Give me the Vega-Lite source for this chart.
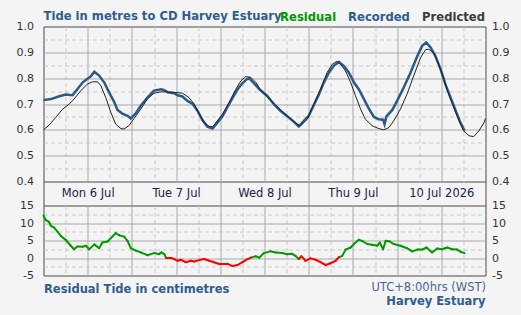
{
  "$schema": "https://vega.github.io/schema/vega-lite/v6.json",
  "padding": {"left": 15.5, "top": 9.5, "right": 12.5, "bottom": 9},
  "background": "#f4f4f4",
  "config": {
    "font": "DejaVu Sans",
    "view": {"stroke": "#4a4a4a", "strokeWidth": 1, "fill": "#f4f4f4"}
  },
  "datasets": {
    "recorded": [
      {"time": "2026-07-06T00:00", "level": 0.715}, {"time": "2026-07-06T02:00", "level": 0.719},
      {"time": "2026-07-06T04:18", "level": 0.730}, {"time": "2026-07-06T06:00", "level": 0.737},
      {"time": "2026-07-06T07:54", "level": 0.734}, {"time": "2026-07-06T08:48", "level": 0.750},
      {"time": "2026-07-06T10:36", "level": 0.783}, {"time": "2026-07-06T12:06", "level": 0.800},
      {"time": "2026-07-06T12:48", "level": 0.806}, {"time": "2026-07-06T13:48", "level": 0.825},
      {"time": "2026-07-06T15:06", "level": 0.810}, {"time": "2026-07-06T16:30", "level": 0.783},
      {"time": "2026-07-06T17:48", "level": 0.745}, {"time": "2026-07-06T19:12", "level": 0.708},
      {"time": "2026-07-06T20:06", "level": 0.677}, {"time": "2026-07-06T21:24", "level": 0.663},
      {"time": "2026-07-06T22:48", "level": 0.654}, {"time": "2026-07-06T23:42", "level": 0.644},
      {"time": "2026-07-07T01:06", "level": 0.665}, {"time": "2026-07-07T02:24", "level": 0.693},
      {"time": "2026-07-07T04:12", "level": 0.725}, {"time": "2026-07-07T06:00", "level": 0.752},
      {"time": "2026-07-07T07:54", "level": 0.757}, {"time": "2026-07-07T08:48", "level": 0.754},
      {"time": "2026-07-07T09:42", "level": 0.745}, {"time": "2026-07-07T11:30", "level": 0.742},
      {"time": "2026-07-07T12:24", "level": 0.734}, {"time": "2026-07-07T13:42", "level": 0.729},
      {"time": "2026-07-07T15:06", "level": 0.712}, {"time": "2026-07-07T16:30", "level": 0.700},
      {"time": "2026-07-07T17:48", "level": 0.674}, {"time": "2026-07-07T19:12", "level": 0.637},
      {"time": "2026-07-07T20:30", "level": 0.612}, {"time": "2026-07-07T21:54", "level": 0.605},
      {"time": "2026-07-07T23:12", "level": 0.628}, {"time": "2026-07-08T00:36", "level": 0.652},
      {"time": "2026-07-08T02:00", "level": 0.690}, {"time": "2026-07-08T03:18", "level": 0.723},
      {"time": "2026-07-08T04:42", "level": 0.757}, {"time": "2026-07-08T06:00", "level": 0.780},
      {"time": "2026-07-08T07:12", "level": 0.796}, {"time": "2026-07-08T07:48", "level": 0.800},
      {"time": "2026-07-08T09:12", "level": 0.780}, {"time": "2026-07-08T10:36", "level": 0.757},
      {"time": "2026-07-08T12:42", "level": 0.732}, {"time": "2026-07-08T14:30", "level": 0.700},
      {"time": "2026-07-08T16:18", "level": 0.674}, {"time": "2026-07-08T18:12", "level": 0.652},
      {"time": "2026-07-08T20:00", "level": 0.631}, {"time": "2026-07-08T21:18", "level": 0.613},
      {"time": "2026-07-08T22:42", "level": 0.635}, {"time": "2026-07-09T00:00", "level": 0.654},
      {"time": "2026-07-09T01:24", "level": 0.696}, {"time": "2026-07-09T02:48", "level": 0.738},
      {"time": "2026-07-09T04:06", "level": 0.783}, {"time": "2026-07-09T05:30", "level": 0.822},
      {"time": "2026-07-09T06:48", "level": 0.848}, {"time": "2026-07-09T08:12", "level": 0.863},
      {"time": "2026-07-09T09:30", "level": 0.848}, {"time": "2026-07-09T10:54", "level": 0.822},
      {"time": "2026-07-09T12:18", "level": 0.783}, {"time": "2026-07-09T13:36", "level": 0.757},
      {"time": "2026-07-09T15:00", "level": 0.719}, {"time": "2026-07-09T16:18", "level": 0.683},
      {"time": "2026-07-09T17:42", "level": 0.650}, {"time": "2026-07-09T19:00", "level": 0.641},
      {"time": "2026-07-09T20:12", "level": 0.639}, {"time": "2026-07-09T20:36", "level": 0.622},
      {"time": "2026-07-09T21:06", "level": 0.652}, {"time": "2026-07-09T22:42", "level": 0.677},
      {"time": "2026-07-10T00:00", "level": 0.712}, {"time": "2026-07-10T01:48", "level": 0.764},
      {"time": "2026-07-10T03:36", "level": 0.820}, {"time": "2026-07-10T05:30", "level": 0.886},
      {"time": "2026-07-10T06:48", "level": 0.925}, {"time": "2026-07-10T07:54", "level": 0.938},
      {"time": "2026-07-10T09:06", "level": 0.919}, {"time": "2026-07-10T10:24", "level": 0.886},
      {"time": "2026-07-10T11:48", "level": 0.835}, {"time": "2026-07-10T13:06", "level": 0.777},
      {"time": "2026-07-10T14:30", "level": 0.725}, {"time": "2026-07-10T15:54", "level": 0.674},
      {"time": "2026-07-10T17:12", "level": 0.628}, {"time": "2026-07-10T18:18", "level": 0.596}
    ],
    "predicted": [
      {"time": "2026-07-06T00:00", "level": 0.600}, {"time": "2026-07-06T01:30", "level": 0.618},
      {"time": "2026-07-06T03:18", "level": 0.648}, {"time": "2026-07-06T05:12", "level": 0.680},
      {"time": "2026-07-06T07:00", "level": 0.700}, {"time": "2026-07-06T08:18", "level": 0.719},
      {"time": "2026-07-06T10:06", "level": 0.751}, {"time": "2026-07-06T11:54", "level": 0.777},
      {"time": "2026-07-06T13:18", "level": 0.786}, {"time": "2026-07-06T14:42", "level": 0.786},
      {"time": "2026-07-06T15:36", "level": 0.770}, {"time": "2026-07-06T16:54", "level": 0.725},
      {"time": "2026-07-06T18:18", "level": 0.667}, {"time": "2026-07-06T19:36", "level": 0.622},
      {"time": "2026-07-06T21:00", "level": 0.605}, {"time": "2026-07-06T21:54", "level": 0.603},
      {"time": "2026-07-06T23:18", "level": 0.618}, {"time": "2026-07-07T00:36", "level": 0.644},
      {"time": "2026-07-07T02:24", "level": 0.680}, {"time": "2026-07-07T04:12", "level": 0.719},
      {"time": "2026-07-07T06:00", "level": 0.742}, {"time": "2026-07-07T07:54", "level": 0.747},
      {"time": "2026-07-07T09:42", "level": 0.747}, {"time": "2026-07-07T11:30", "level": 0.745},
      {"time": "2026-07-07T13:42", "level": 0.742}, {"time": "2026-07-07T15:30", "level": 0.725},
      {"time": "2026-07-07T16:54", "level": 0.700}, {"time": "2026-07-07T18:18", "level": 0.661},
      {"time": "2026-07-07T19:36", "level": 0.628}, {"time": "2026-07-07T21:00", "level": 0.613},
      {"time": "2026-07-07T21:54", "level": 0.612}, {"time": "2026-07-07T23:12", "level": 0.635},
      {"time": "2026-07-08T00:36", "level": 0.661}, {"time": "2026-07-08T02:24", "level": 0.706},
      {"time": "2026-07-08T04:12", "level": 0.757}, {"time": "2026-07-08T05:36", "level": 0.790},
      {"time": "2026-07-08T06:54", "level": 0.806}, {"time": "2026-07-08T08:18", "level": 0.803},
      {"time": "2026-07-08T09:42", "level": 0.783}, {"time": "2026-07-08T10:54", "level": 0.755},
      {"time": "2026-07-08T14:30", "level": 0.702}, {"time": "2026-07-08T18:12", "level": 0.654},
      {"time": "2026-07-08T20:54", "level": 0.622}, {"time": "2026-07-08T21:48", "level": 0.616},
      {"time": "2026-07-08T23:36", "level": 0.641}, {"time": "2026-07-09T01:24", "level": 0.700},
      {"time": "2026-07-09T03:12", "level": 0.757}, {"time": "2026-07-09T05:00", "level": 0.822},
      {"time": "2026-07-09T06:24", "level": 0.854}, {"time": "2026-07-09T07:36", "level": 0.865},
      {"time": "2026-07-09T08:36", "level": 0.854}, {"time": "2026-07-09T10:00", "level": 0.828},
      {"time": "2026-07-09T11:24", "level": 0.783}, {"time": "2026-07-09T12:42", "level": 0.732},
      {"time": "2026-07-09T14:06", "level": 0.680}, {"time": "2026-07-09T15:24", "level": 0.641},
      {"time": "2026-07-09T17:12", "level": 0.616}, {"time": "2026-07-09T19:00", "level": 0.605},
      {"time": "2026-07-09T20:24", "level": 0.600}, {"time": "2026-07-09T21:48", "level": 0.609},
      {"time": "2026-07-09T23:06", "level": 0.635}, {"time": "2026-07-10T00:54", "level": 0.680},
      {"time": "2026-07-10T02:42", "level": 0.738}, {"time": "2026-07-10T04:30", "level": 0.809},
      {"time": "2026-07-10T06:24", "level": 0.880}, {"time": "2026-07-10T07:42", "level": 0.910},
      {"time": "2026-07-10T08:36", "level": 0.912}, {"time": "2026-07-10T09:54", "level": 0.899},
      {"time": "2026-07-10T11:18", "level": 0.854}, {"time": "2026-07-10T12:42", "level": 0.796},
      {"time": "2026-07-10T14:00", "level": 0.738}, {"time": "2026-07-10T15:24", "level": 0.687},
      {"time": "2026-07-10T16:48", "level": 0.635}, {"time": "2026-07-10T18:06", "level": 0.596},
      {"time": "2026-07-10T19:30", "level": 0.577}, {"time": "2026-07-10T20:48", "level": 0.574},
      {"time": "2026-07-10T22:12", "level": 0.596}, {"time": "2026-07-10T23:36", "level": 0.628},
      {"time": "2026-07-11T00:00", "level": 0.644}
    ],
    "residual": [
      {"time": "2026-07-06T00:00", "residual": 12.2}, {"time": "2026-07-06T00:36", "residual": 10.8},
      {"time": "2026-07-06T01:30", "residual": 10.3}, {"time": "2026-07-06T02:00", "residual": 9.2},
      {"time": "2026-07-06T02:54", "residual": 8.7}, {"time": "2026-07-06T03:48", "residual": 7.5},
      {"time": "2026-07-06T04:42", "residual": 6.3}, {"time": "2026-07-06T06:06", "residual": 5.1},
      {"time": "2026-07-06T07:24", "residual": 3.5}, {"time": "2026-07-06T08:18", "residual": 2.5},
      {"time": "2026-07-06T09:12", "residual": 3.3}, {"time": "2026-07-06T10:36", "residual": 3.2},
      {"time": "2026-07-06T11:30", "residual": 3.5}, {"time": "2026-07-06T12:24", "residual": 2.5},
      {"time": "2026-07-06T13:48", "residual": 3.9}, {"time": "2026-07-06T15:06", "residual": 2.8},
      {"time": "2026-07-06T16:00", "residual": 4.4}, {"time": "2026-07-06T17:24", "residual": 4.7},
      {"time": "2026-07-06T18:42", "residual": 6.1}, {"time": "2026-07-06T19:36", "residual": 7.1},
      {"time": "2026-07-06T20:30", "residual": 6.5}, {"time": "2026-07-06T21:54", "residual": 6.1},
      {"time": "2026-07-06T22:48", "residual": 4.9}, {"time": "2026-07-06T23:42", "residual": 2.8},
      {"time": "2026-07-07T01:06", "residual": 2.1}, {"time": "2026-07-07T02:24", "residual": 1.6},
      {"time": "2026-07-07T04:12", "residual": 0.8}, {"time": "2026-07-07T06:00", "residual": 1.4},
      {"time": "2026-07-07T07:24", "residual": 1.1}, {"time": "2026-07-07T08:00", "residual": 1.6},
      {"time": "2026-07-07T08:48", "residual": 1.1}, {"time": "2026-07-07T09:18", "residual": 0.0},
      {"time": "2026-07-07T10:36", "residual": 0.0}, {"time": "2026-07-07T11:30", "residual": -0.3},
      {"time": "2026-07-07T12:24", "residual": -0.8}, {"time": "2026-07-07T13:18", "residual": -0.5},
      {"time": "2026-07-07T14:36", "residual": -1.2}, {"time": "2026-07-07T16:00", "residual": -0.8},
      {"time": "2026-07-07T16:54", "residual": -1.0}, {"time": "2026-07-07T18:18", "residual": -0.6},
      {"time": "2026-07-07T19:36", "residual": -0.3}, {"time": "2026-07-07T21:00", "residual": -0.8},
      {"time": "2026-07-07T22:18", "residual": -1.2}, {"time": "2026-07-07T23:42", "residual": -1.7},
      {"time": "2026-07-08T01:00", "residual": -1.7}, {"time": "2026-07-08T02:00", "residual": -1.7},
      {"time": "2026-07-08T03:18", "residual": -2.3}, {"time": "2026-07-08T04:42", "residual": -2.0},
      {"time": "2026-07-08T06:00", "residual": -1.2}, {"time": "2026-07-08T07:24", "residual": -0.3},
      {"time": "2026-07-08T08:18", "residual": 0.1}, {"time": "2026-07-08T09:36", "residual": 0.5},
      {"time": "2026-07-08T10:36", "residual": 0.1}, {"time": "2026-07-08T11:48", "residual": 1.4},
      {"time": "2026-07-08T13:36", "residual": 1.9}, {"time": "2026-07-08T15:00", "residual": 1.6},
      {"time": "2026-07-08T16:48", "residual": 1.4}, {"time": "2026-07-08T18:12", "residual": 1.1},
      {"time": "2026-07-08T19:30", "residual": 1.2}, {"time": "2026-07-08T20:24", "residual": 0.6},
      {"time": "2026-07-08T21:18", "residual": -0.3}, {"time": "2026-07-08T22:00", "residual": 0.5},
      {"time": "2026-07-08T22:30", "residual": 0.0}, {"time": "2026-07-08T23:06", "residual": -0.8},
      {"time": "2026-07-09T00:30", "residual": -0.1}, {"time": "2026-07-09T01:54", "residual": -0.5},
      {"time": "2026-07-09T03:12", "residual": -1.2}, {"time": "2026-07-09T04:36", "residual": -2.0},
      {"time": "2026-07-09T05:54", "residual": -1.5}, {"time": "2026-07-09T07:18", "residual": -0.8},
      {"time": "2026-07-09T08:12", "residual": 0.2}, {"time": "2026-07-09T09:06", "residual": 0.6},
      {"time": "2026-07-09T10:00", "residual": 2.4}, {"time": "2026-07-09T11:24", "residual": 3.0},
      {"time": "2026-07-09T12:18", "residual": 4.0}, {"time": "2026-07-09T13:36", "residual": 5.2},
      {"time": "2026-07-09T14:30", "residual": 4.9}, {"time": "2026-07-09T15:54", "residual": 4.0},
      {"time": "2026-07-09T17:12", "residual": 3.8}, {"time": "2026-07-09T18:36", "residual": 3.5},
      {"time": "2026-07-09T19:18", "residual": 4.4}, {"time": "2026-07-09T20:12", "residual": 2.5},
      {"time": "2026-07-09T20:54", "residual": 4.9}, {"time": "2026-07-09T21:48", "residual": 4.8},
      {"time": "2026-07-09T23:06", "residual": 4.0}, {"time": "2026-07-10T00:54", "residual": 3.5},
      {"time": "2026-07-10T02:42", "residual": 2.8}, {"time": "2026-07-10T04:06", "residual": 1.9},
      {"time": "2026-07-10T05:30", "residual": 2.4}, {"time": "2026-07-10T06:48", "residual": 2.4},
      {"time": "2026-07-10T08:00", "residual": 3.0}, {"time": "2026-07-10T09:30", "residual": 1.6},
      {"time": "2026-07-10T10:54", "residual": 2.7}, {"time": "2026-07-10T12:12", "residual": 2.5},
      {"time": "2026-07-10T13:36", "residual": 3.0}, {"time": "2026-07-10T14:54", "residual": 2.5},
      {"time": "2026-07-10T16:18", "residual": 2.4}, {"time": "2026-07-10T17:12", "residual": 1.8},
      {"time": "2026-07-10T18:18", "residual": 1.4}
    ]
  },
  "vconcat": [
    {
      "width": 442,
      "height": 155,
      "title": {"text": "Tide in metres to CD Harvey Estuary", "anchor": "start", "frame": "group", "offset": -11, "baseline": "alphabetic", "color": "#2f5d8e", "fontSize": 11.6, "fontWeight": "bold", "font": "DejaVu Sans"},
      "layer": [
        {
          "data": {"name": "recorded"},
          "mark": {"type": "line", "strokeWidth": 2.5},
          "encoding": {
            "x": {
              "field": "time", "type": "temporal",
              "scale": {"domain": ["2026-07-06T00:00", "2026-07-11T00:00"], "nice": false},
              "axis": {
                "title": null, "orient": "bottom",
                "values": [
                  {"year": 2026, "month": 7, "date": 6, "hours": 6}, {"year": 2026, "month": 7, "date": 6, "hours": 12}, {"year": 2026, "month": 7, "date": 6, "hours": 18},
                  {"year": 2026, "month": 7, "date": 7, "hours": 0}, {"year": 2026, "month": 7, "date": 7, "hours": 6}, {"year": 2026, "month": 7, "date": 7, "hours": 12}, {"year": 2026, "month": 7, "date": 7, "hours": 18},
                  {"year": 2026, "month": 7, "date": 8, "hours": 0}, {"year": 2026, "month": 7, "date": 8, "hours": 6}, {"year": 2026, "month": 7, "date": 8, "hours": 12}, {"year": 2026, "month": 7, "date": 8, "hours": 18},
                  {"year": 2026, "month": 7, "date": 9, "hours": 0}, {"year": 2026, "month": 7, "date": 9, "hours": 6}, {"year": 2026, "month": 7, "date": 9, "hours": 12}, {"year": 2026, "month": 7, "date": 9, "hours": 18},
                  {"year": 2026, "month": 7, "date": 10, "hours": 0}, {"year": 2026, "month": 7, "date": 10, "hours": 6}, {"year": 2026, "month": 7, "date": 10, "hours": 12}, {"year": 2026, "month": 7, "date": 10, "hours": 18}
                ],
                "grid": true, "ticks": false, "domain": false,
                "gridColor": {"condition": {"test": "hours(datum.value) % 12 == 0", "value": "#a8a8a8"}, "value": "#c8c8c8"},
                "gridDash": {"condition": {"test": "hours(datum.value) % 12 != 0", "value": [4, 3]}, "value": []},
                "labelExpr": "hours(datum.value) == 12 ? (date(datum.value) == 10 ? '10 Jul 2026' : timeFormat(datum.value, '%a %-d %b')) : ''",
                "labelOverlap": false, "labelFlush": false, "labelBound": false,
                "labelBaseline": "middle", "labelPadding": 12, "labelFontSize": 11.5, "labelColor": "#22224a", "labelFont": "DejaVu Sans"
              }
            },
            "y": {
              "field": "level", "type": "quantitative",
              "scale": {"domain": [0.4, 1.0], "nice": false, "zero": false},
              "axis": {
                "title": null, "orient": "left",
                "values": [0.4, 0.45, 0.5, 0.55, 0.6, 0.65, 0.7, 0.75, 0.8, 0.85, 0.9, 0.95, 1.0],
                "grid": true, "ticks": false, "domain": false,
                "gridColor": {"condition": {"test": "round(datum.value * 100) % 10 != 0", "value": "#c8c8c8"}, "value": "#a8a8a8"},
                "gridDash": {"condition": {"test": "round(datum.value * 100) % 10 != 0", "value": [4, 3]}, "value": []},
                "gridOpacity": {"condition": {"test": "datum.value < 0.41 || datum.value > 0.99", "value": 0}, "value": 1},
                "labelExpr": "round(datum.value * 100) % 10 == 0 ? format(datum.value, '.1f') : ''",
                "labelPadding": 10, "labelFontSize": 11, "labelColor": "#333333"
              }
            },
            "color": {
              "datum": "Recorded",
              "scale": {"domain": ["Residual", "Recorded", "Predicted"], "range": ["#009900", "#2b5a88", "#222222"]},
              "legend": {
                "orient": "none", "legendX": 225, "legendY": -15, "direction": "horizontal", "columns": 3,
                "title": null, "symbolSize": 1, "symbolOpacity": 0, "symbolStrokeWidth": 0,
                "labelOffset": 0, "columnPadding": -3.5, "labelFontSize": 11.6, "labelFontWeight": "bold", "labelFont": "DejaVu Sans",
                "encode": {"labels": {"update": {"fill": {"signal": "datum.label == 'Residual' ? '#009900' : datum.label == 'Recorded' ? '#2f5d8e' : '#3c3c3c'"}}}}
              }
            }
          }
        },
        {
          "data": {"name": "predicted"},
          "mark": {"type": "line", "strokeWidth": 1},
          "encoding": {
            "x": {
              "field": "time", "type": "temporal",
              "axis": {
                "title": null, "orient": "bottom",
                "values": [
                  {"year": 2026, "month": 7, "date": 6}, {"year": 2026, "month": 7, "date": 7}, {"year": 2026, "month": 7, "date": 8},
                  {"year": 2026, "month": 7, "date": 9}, {"year": 2026, "month": 7, "date": 10}, {"year": 2026, "month": 7, "date": 11}
                ],
                "grid": false, "labels": false, "domain": false, "ticks": true, "tickSize": 24,
                "tickColor": {"condition": {"test": "(date(datum.value) == 6 && hours(datum.value) == 0) || date(datum.value) == 11", "value": "#4a4a4a"}, "value": "#a0a0a0"}
              }
            },
            "y": {
              "field": "level", "type": "quantitative",
              "axis": {
                "title": null, "orient": "right",
                "values": [0.4, 0.5, 0.6, 0.7, 0.8, 0.9, 1.0],
                "grid": false, "ticks": false, "domain": false,
                "labelExpr": "format(datum.value, '.1f')",
                "labelPadding": 6, "labelFontSize": 11, "labelColor": "#333333"
              }
            },
            "color": {"datum": "Predicted", "scale": {"domain": ["Residual", "Recorded", "Predicted"], "range": ["#009900", "#2b5a88", "#222222"]}}
          }
        }
      ],
      "resolve": {"axis": {"x": "independent", "y": "independent"}}
    },
    {
      "width": 442,
      "height": 70,
      "data": {"name": "residual"},
      "transform": [
        {"window": [{"op": "lead", "field": "time", "as": "time2"}, {"op": "lead", "field": "residual", "as": "residual2"}], "sort": [{"field": "time"}]},
        {"filter": "datum.time2 != null"}
      ],
      "title": {"text": "Harvey Estuary", "orient": "bottom", "anchor": "end", "frame": "group", "offset": 1, "baseline": "top", "color": "#2f5d8e", "fontSize": 11.5, "fontWeight": "bold", "font": "DejaVu Sans"},
      "layer": [
        {
          "transform": [{"filter": "datum.residual > 0"}],
          "mark": {"type": "rule", "strokeWidth": 2, "strokeCap": "round"},
          "encoding": {
            "x": {
              "field": "time", "type": "temporal",
              "scale": {"domain": ["2026-07-06T00:00", "2026-07-11T00:00"], "nice": false},
              "axis": {
                "orient": "bottom",
                "title": "Residual Tide in centimetres", "titleAnchor": "start", "titleFontWeight": "bold", "titleFontSize": 11.5,
                "titleColor": "#2f5d8e", "titlePadding": 8, "titleFont": "DejaVu Sans",
                "values": [
                  {"year": 2026, "month": 7, "date": 6, "hours": 6}, {"year": 2026, "month": 7, "date": 6, "hours": 12}, {"year": 2026, "month": 7, "date": 6, "hours": 18},
                  {"year": 2026, "month": 7, "date": 7, "hours": 0}, {"year": 2026, "month": 7, "date": 7, "hours": 6}, {"year": 2026, "month": 7, "date": 7, "hours": 12}, {"year": 2026, "month": 7, "date": 7, "hours": 18},
                  {"year": 2026, "month": 7, "date": 8, "hours": 0}, {"year": 2026, "month": 7, "date": 8, "hours": 6}, {"year": 2026, "month": 7, "date": 8, "hours": 12}, {"year": 2026, "month": 7, "date": 8, "hours": 18},
                  {"year": 2026, "month": 7, "date": 9, "hours": 0}, {"year": 2026, "month": 7, "date": 9, "hours": 6}, {"year": 2026, "month": 7, "date": 9, "hours": 12}, {"year": 2026, "month": 7, "date": 9, "hours": 18},
                  {"year": 2026, "month": 7, "date": 10, "hours": 0}, {"year": 2026, "month": 7, "date": 10, "hours": 6}, {"year": 2026, "month": 7, "date": 10, "hours": 12}, {"year": 2026, "month": 7, "date": 10, "hours": 18}
                ],
                "grid": true, "ticks": false, "domain": false, "labels": false,
                "gridColor": {"condition": {"test": "hours(datum.value) % 12 == 0", "value": "#a8a8a8"}, "value": "#c8c8c8"},
                "gridDash": {"condition": {"test": "hours(datum.value) % 12 != 0", "value": [4, 3]}, "value": []}
              }
            },
            "x2": {"field": "time2"},
            "y": {
              "field": "residual", "type": "quantitative",
              "scale": {"domain": [-5, 15], "nice": false, "zero": false},
              "axis": {
                "title": null, "orient": "left",
                "values": [-5, -2.5, 0, 2.5, 5, 7.5, 10, 12.5, 15],
                "grid": true, "ticks": false, "domain": false,
                "gridColor": {"condition": {"test": "datum.value % 5 != 0", "value": "#c8c8c8"}, "value": "#a8a8a8"},
                "gridDash": {"condition": {"test": "datum.value % 5 != 0", "value": [4, 3]}, "value": []},
                "gridOpacity": {"condition": {"test": "datum.value < -4.9 || datum.value > 14.9", "value": 0}, "value": 1},
                "labelExpr": "datum.value % 5 == 0 ? toString(datum.value) : ''",
                "labelPadding": 10, "labelFontSize": 11, "labelColor": "#333333"
              }
            },
            "y2": {"field": "residual2"},
            "color": {"datum": "Residual", "scale": {"domain": ["Residual", "Recorded", "Predicted"], "range": ["#009900", "#2b5a88", "#222222"]}}
          }
        },
        {
          "transform": [{"filter": "datum.residual <= 0"}],
          "mark": {"type": "rule", "strokeWidth": 2, "strokeCap": "round", "color": "#ff0000"},
          "encoding": {
            "x": {
              "field": "time", "type": "temporal",
              "axis": {
                "orient": "bottom",
                "title": "UTC+8:00hrs (WST)", "titleAnchor": "end", "titleFontWeight": "normal", "titleFontSize": 11.5,
                "titleColor": "#4a6796", "titlePadding": 6, "titleFont": "DejaVu Sans",
                "grid": false, "ticks": false, "domain": false, "labels": false
              }
            },
            "x2": {"field": "time2"},
            "y": {
              "field": "residual", "type": "quantitative",
              "axis": {
                "title": null, "orient": "right",
                "values": [-5, 0, 5, 10, 15],
                "grid": false, "ticks": false, "domain": false,
                "labelExpr": "toString(datum.value)",
                "labelPadding": 6, "labelFontSize": 11, "labelColor": "#333333"
              }
            },
            "y2": {"field": "residual2"}
          }
        }
      ],
      "resolve": {"axis": {"x": "independent", "y": "independent"}}
    }
  ],
  "spacing": 24,
  "bounds": "flush"
}
